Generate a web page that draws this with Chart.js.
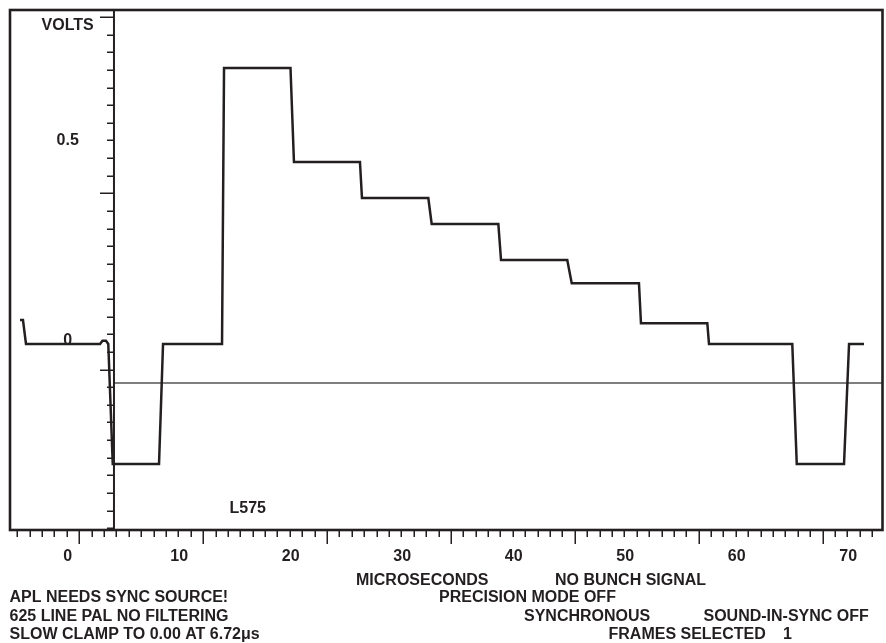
<!DOCTYPE html>
<html>
<head>
<meta charset="utf-8">
<script src="https://cdn.jsdelivr.net/npm/chart.js@4.4.1/dist/chart.umd.min.js"></script>
<style>
html,body{margin:0;padding:0;background:#ffffff;overflow:hidden}
canvas{display:block}
</style>
</head>
<body>
<canvas id="c" width="886" height="643"></canvas>
<script>
// ---- data (time in microseconds, level in volts) ----
const timeUs = [-4.28, -4.01, -3.74, 2.90, 3.12, 3.43, 3.64, 4.04, 8.19, 8.55, 13.84, 14.02, 19.98, 20.29, 26.21, 26.39, 32.34, 32.64, 38.62, 38.86, 44.80, 45.20, 51.23, 51.41, 57.36, 57.51, 64.98, 65.38, 69.62, 70.07, 71.41];
const volts  = [0.06, 0.06, 0.0, 0.0, 0.008, 0.008, 0.0, -0.30, -0.30, 0.0, 0.0, 0.69, 0.69, 0.455, 0.455, 0.365, 0.365, 0.30, 0.30, 0.21, 0.21, 0.152, 0.152, 0.052, 0.052, 0.0, 0.0, -0.30, -0.30, 0.0, 0.0];

const clampTimeUs = [4.15, 73.07];
const clampVolts  = [-0.0975, -0.0975];

const xTickLabels = [0, 10, 20, 30, 40, 50, 60, 70];
const yTickLabels = ['0.5', '0'];
const yTickValues = [0.5, 0];
const yAxisTitle = 'VOLTS';
const yAxisAtTime = 4.15;

// tick marks of the instrument graticule
const xMarkStart = -4.52, xMarkStep = 1.111, xMarkCount = 70, xMarkMajorOffset = 5;
const yMarkStart = 0.8175, yMarkStep = -0.044075, yMarkCount = 30;

const plotLabel = 'L575';
const footerLines = [
  ['MICROSECONDS', 'NO BUNCH SIGNAL'],
  ['APL NEEDS SYNC SOURCE!', 'PRECISION MODE OFF'],
  ['625 LINE PAL NO FILTERING', 'SYNCHRONOUS', 'SOUND-IN-SYNC OFF'],
  ['SLOW CLAMP TO 0.00 AT 6.72\u03BCs', 'FRAMES SELECTED', '1']
];

// ---- layout / style ----
const INK = '#231f20';
const FONT = 'bold 16px "Liberation Sans", Arial, Helvetica, sans-serif';
const footerPos = [
  [[356, 584.5], [555, 584.5]],
  [[9.5, 602.3], [439, 602.3]],
  [[9.5, 620.7], [524, 620.7], [703.5, 620.7]],
  [[9.5, 639], [608.5, 639], [783, 639]]
];

const decor = {
  id: 'decor',
  afterDraw(chart) {
    const {ctx, chartArea: a, scales: {x, y}} = chart;
    ctx.save();
    ctx.strokeStyle = INK;
    ctx.lineCap = 'butt';
    // frame
    ctx.lineWidth = 2.6;
    ctx.strokeRect(a.left, a.top, a.right - a.left, a.bottom - a.top);
    // vertical axis line
    const ax = x.getPixelForValue(yAxisAtTime);
    ctx.lineWidth = 2;
    ctx.beginPath(); ctx.moveTo(ax, a.top); ctx.lineTo(ax, a.bottom); ctx.stroke();
    // y tick marks
    ctx.lineWidth = 1.5;
    for (let i = 0; i < yMarkCount; i++) {
      const py = Math.round(y.getPixelForValue(yMarkStart + i * yMarkStep)) + 0.25;
      const len = (i % 10 === 0) ? 14 : 7;
      ctx.beginPath(); ctx.moveTo(ax - len, py); ctx.lineTo(ax, py); ctx.stroke();
    }
    // x tick marks
    for (let i = 0; i < xMarkCount; i++) {
      const px = Math.round(x.getPixelForValue(xMarkStart + i * xMarkStep)) + 0.25;
      const len = ((i - xMarkMajorOffset) % 10 === 0) ? 14 : 7;
      ctx.beginPath(); ctx.moveTo(px, a.bottom); ctx.lineTo(px, a.bottom + len); ctx.stroke();
    }
    // text
    ctx.fillStyle = INK;
    ctx.font = FONT;
    ctx.textBaseline = 'alphabetic';
    ctx.textAlign = 'center';
    xTickLabels.forEach(v => ctx.fillText(String(v), x.getPixelForValue(v), a.bottom + 31));
    const x0 = x.getPixelForValue(0);
    yTickLabels.forEach((t, i) => ctx.fillText(t, x0, y.getPixelForValue(yTickValues[i]) + 1));
    ctx.fillText(yAxisTitle, x0, a.top + 19.5);
    ctx.textAlign = 'left';
    ctx.fillText(plotLabel, a.left + 219.5, a.bottom - 17.5);
    footerLines.forEach((row, r) => row.forEach((t, k) => {
      ctx.fillText(t, footerPos[r][k][0], footerPos[r][k][1]);
    }));
    ctx.restore();
  }
};

new Chart(document.getElementById('c'), {
  type: 'line',
  data: {
    datasets: [
      {
        label: 'waveform',
        data: timeUs.map((t, i) => ({x: t, y: volts[i]})),
        borderColor: INK,
        borderWidth: 2.5,
        pointRadius: 0,
        tension: 0,
        fill: false,
        order: 1
      },
      {
        label: 'clamp',
        data: clampTimeUs.map((t, i) => ({x: t, y: clampVolts[i]})),
        borderColor: '#555555',
        borderWidth: 1.3,
        pointRadius: 0,
        tension: 0,
        fill: false,
        order: 2
      }
    ]
  },
  options: {
    responsive: false,
    animation: false,
    devicePixelRatio: 1,
    layout: {padding: {left: 10, top: 10, right: 3.5, bottom: 113}},
    plugins: {legend: {display: false}, tooltip: {enabled: false}},
    scales: {
      x: {type: 'linear', min: -5.174, max: 73.07, display: false},
      y: {type: 'linear', min: -0.465, max: 0.835, display: false}
    }
  },
  plugins: [decor]
});
</script>
</body>
</html>
